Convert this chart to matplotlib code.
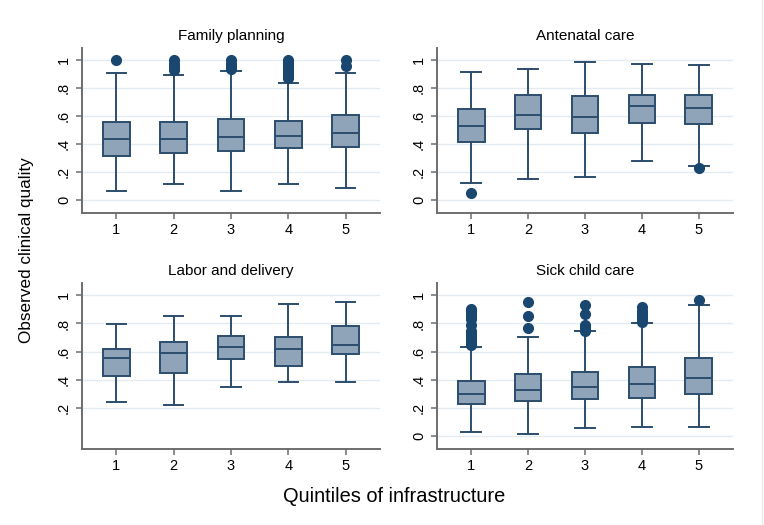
import matplotlib
matplotlib.use("Agg")
import matplotlib.pyplot as plt
from matplotlib.lines import Line2D

plt.rcParams['font.family'] = ['Liberation Sans', 'DejaVu Sans']

quintiles = [1, 2, 3, 4, 5]
titles = ["Family planning", "Antenatal care", "Labor and delivery", "Sick child care"]

# Family planning
fp_whislo = [0.067, 0.112, 0.062, 0.112, 0.084]
fp_q1 = [0.315, 0.339, 0.353, 0.370, 0.379]
fp_med = [0.437, 0.439, 0.453, 0.458, 0.477]
fp_q3 = [0.561, 0.561, 0.582, 0.566, 0.606]
fp_whishi = [0.907, 0.897, 0.926, 0.838, 0.907]
fp_fliers = [[1.0],
             [0.93, 0.95, 0.97, 1.0],
             [0.94, 0.95, 0.97, 1.0],
             [0.87, 0.88, 0.90, 0.92, 0.94, 0.96, 0.98, 1.0],
             [0.96, 1.0]]

# Antenatal care
an_whislo = [0.124, 0.148, 0.167, 0.279, 0.243]
an_q1 = [0.418, 0.511, 0.477, 0.551, 0.542]
an_med = [0.530, 0.606, 0.594, 0.671, 0.659]
an_q3 = [0.654, 0.752, 0.742, 0.752, 0.752]
an_whishi = [0.916, 0.938, 0.986, 0.974, 0.964]
an_fliers = [[0.053], [], [], [], [0.231]]

# Labor and delivery
ld_whislo = [0.241, 0.219, 0.348, 0.387, 0.387]
ld_q1 = [0.425, 0.451, 0.550, 0.497, 0.581]
ld_med = [0.552, 0.588, 0.636, 0.617, 0.646]
ld_q3 = [0.619, 0.669, 0.710, 0.701, 0.782]
ld_whishi = [0.799, 0.856, 0.854, 0.940, 0.954]
ld_fliers = [[], [], [], [], []]

# Sick child care
sc_whislo = [0.031, 0.017, 0.055, 0.060, 0.062]
sc_q1 = [0.230, 0.246, 0.261, 0.273, 0.297]
sc_med = [0.301, 0.325, 0.347, 0.366, 0.414]
sc_q3 = [0.390, 0.440, 0.455, 0.490, 0.555]
sc_whishi = [0.636, 0.703, 0.744, 0.801, 0.928]
sc_fliers = [[0.65, 0.67, 0.69, 0.71, 0.73, 0.75, 0.79, 0.83, 0.85, 0.87, 0.89, 0.90],
             [0.77, 0.85, 0.95],
             [0.75, 0.77, 0.79, 0.87, 0.93],
             [0.81, 0.83, 0.85, 0.87, 0.89, 0.92],
             [0.97]]

panels = [
    (fp_whislo, fp_q1, fp_med, fp_q3, fp_whishi, fp_fliers),
    (an_whislo, an_q1, an_med, an_q3, an_whishi, an_fliers),
    (ld_whislo, ld_q1, ld_med, ld_q3, ld_whishi, ld_fliers),
    (sc_whislo, sc_q1, sc_med, sc_q3, sc_whishi, sc_fliers),
]

yticks_full = [0, 0.2, 0.4, 0.6, 0.8, 1.0]
yticks_ld = [0.2, 0.4, 0.6, 0.8, 1.0]
ytick_labels = {0: "0", 0.2: ".2", 0.4: ".4", 0.6: ".6", 0.8: ".8", 1.0: "1"}

W, H = 764, 525
fig = plt.figure(figsize=(W / 100, H / 100), dpi=100)
fig.patch.set_facecolor("white")

# axes boxes in pixels: left, top, right, bottom
boxes_px = [(82, 48, 380, 213), (437, 48, 733, 213),
            (82, 283, 380, 449), (437, 283, 733, 449)]

navy = "#1a476f"
fill = "#8fa3b9"
edge = "#2c4d6e"
spine_col = "#6e6e6e"
grid_col = "#e4ebf0"

for i, (stats_arr, (l, t, r, b)) in enumerate(zip(panels, boxes_px)):
    ax = fig.add_axes([l / W, (H - b) / H, (r - l) / W, (b - t) / H])
    wl, q1, med, q3, wh, fl = stats_arr
    stats = []
    for k in range(len(quintiles)):
        stats.append(dict(whislo=wl[k], q1=q1[k], med=med[k], q3=q3[k],
                          whishi=wh[k], fliers=fl[k]))
    ax.bxp(stats, positions=quintiles, widths=0.47, patch_artist=True,
           showfliers=True,
           boxprops=dict(facecolor=fill, edgecolor=edge, linewidth=1.4),
           medianprops=dict(color=edge, linewidth=1.4),
           whiskerprops=dict(color=edge, linewidth=1.4),
           capprops=dict(color=edge, linewidth=1.4),
           capwidths=0.34,
           flierprops=dict(marker='o', markerfacecolor=navy,
                           markeredgecolor=navy, markersize=7))
    ax.set_xlim(0.4, 5.6)
    ax.set_ylim(-0.093, 1.088)
    yt = yticks_ld if i == 2 else yticks_full
    ax.set_yticks(yt)
    ax.set_yticklabels([ytick_labels[v] for v in yt], rotation=90, va='center')
    ax.set_xticks(quintiles)
    ax.set_xticklabels([str(q) for q in quintiles])
    ax.tick_params(axis='y', length=4, width=1.1, color=spine_col,
                   labelsize=10.5, pad=4)
    ax.tick_params(axis='x', length=4, width=1.1, color=spine_col,
                   labelsize=10.5, pad=3)
    ax.grid(axis='y', color=grid_col, linewidth=1.0)
    ax.set_axisbelow(True)
    for s in ['top', 'right']:
        ax.spines[s].set_visible(False)
    for s in ['left', 'bottom']:
        ax.spines[s].set_color(spine_col)
        ax.spines[s].set_linewidth(1.4)
    ax.set_facecolor("white")
    ax.set_title(titles[i], fontsize=11, pad=6)

fig.text(27 / W, 1 - 250 / H, "Observed clinical quality", rotation=90,
         ha='center', va='center', fontsize=12.3)
fig.text(394 / W, 1 - 497 / H, "Quintiles of infrastructure",
         ha='center', va='center', fontsize=14.4)

fig.add_artist(Line2D([762 / W, 762 / W], [0.0, 1.0], color="#ececec",
                      linewidth=1.0, transform=fig.transFigure))

fig.savefig("out.png", dpi=100)
